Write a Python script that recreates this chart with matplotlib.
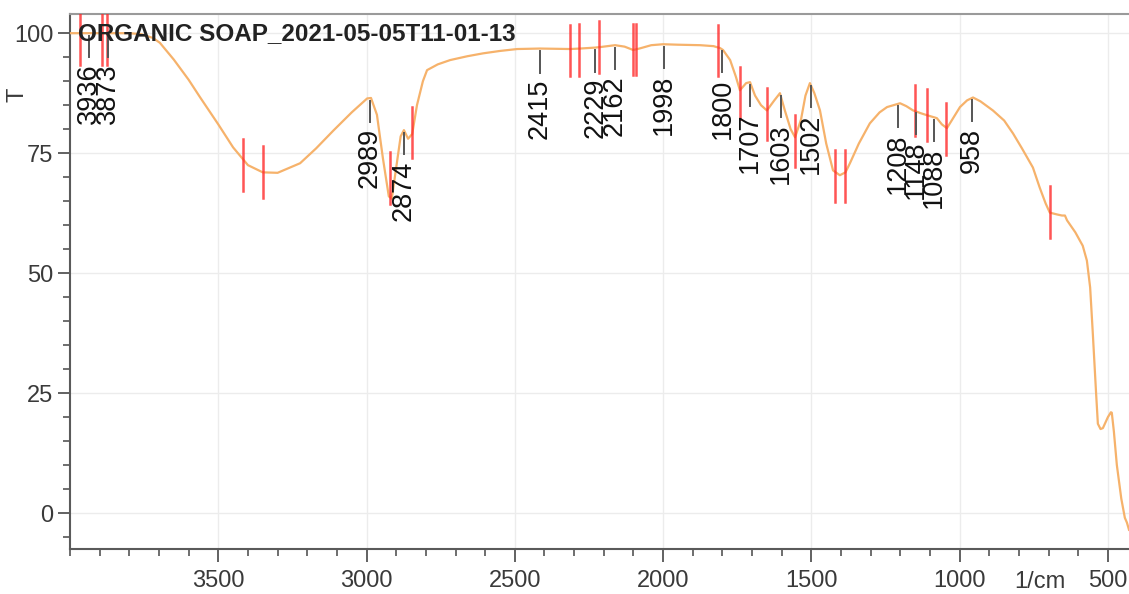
import matplotlib
matplotlib.use('Agg')
import matplotlib.pyplot as plt
from matplotlib.ticker import MultipleLocator
from matplotlib.transforms import blended_transform_factory

plt.rcParams['font.family'] = ['Liberation Sans', 'DejaVu Sans']

title = 'ORGANIC SOAP_2021-05-05T11-01-13'

# spectrum (wavenumber 1/cm, transmittance %)
wn = [4000, 3900, 3800, 3760, 3720, 3697, 3650, 3600, 3562, 3500, 3450, 3400,
      3350, 3300, 3224, 3170, 3112, 3050, 2998, 2985, 2965, 2945, 2925, 2915,
      2900, 2885, 2874, 2860, 2846, 2830, 2810, 2796, 2760, 2718, 2660, 2607,
      2550, 2492, 2415, 2314, 2280, 2229, 2213, 2162, 2130, 2101, 2080, 2040,
      2000, 1950, 1875, 1830, 1808, 1798, 1774, 1755, 1741, 1720, 1707, 1690,
      1670, 1650, 1625, 1606, 1590, 1570, 1555, 1535, 1520, 1505, 1490, 1471,
      1450, 1427, 1404, 1385, 1370, 1340, 1303, 1270, 1245, 1201, 1180, 1157,
      1130, 1110, 1077, 1060, 1043, 1020, 999, 975, 955, 930, 888, 850,
      820, 790, 753, 730, 710, 696, 670, 655, 645, 638, 610, 585,
      571, 560, 551, 540, 534, 525, 517, 500, 490, 487, 480, 470,
      455, 443, 436, 429]
trans = [100, 100, 100, 99.8, 99, 98, 94.5, 90.3, 86.7, 81, 76.2, 72.5,
         71, 70.9, 72.9, 76, 79.7, 83.5, 86.4, 86.5, 83, 74, 66, 65.5,
         72, 78.5, 79.8, 78, 79, 85, 90, 92.3, 93.5, 94.4, 95.2, 95.8,
         96.3, 96.7, 96.8, 96.7, 96.8, 97, 97.1, 97.5, 97.2, 96.5, 96.8, 97.5,
         97.7, 97.6, 97.5, 97.3, 96.9, 96.5, 94.4, 91, 88.1, 89.6, 89.8, 87,
         85, 83.9, 86, 87.5, 84, 80, 78.3, 82, 87, 89.6, 87.5, 83.9,
         77, 71.4, 70.4, 71, 72.9, 77, 81.2, 83.5, 84.6, 85.4, 84.8, 83.9,
         83.3, 82.9, 82.3, 81, 80.2, 82.5, 84.6, 86, 86.6, 85.8, 83.9, 81.8,
         79.1, 76, 72, 67.8, 64.5, 62.6, 62.2, 62, 62, 61, 58.5, 55.7,
         52.6, 47, 37.4, 25, 18.6, 17.5, 17.7, 20, 21, 20.9, 17, 10,
         3, -1, -2, -3.5]

# labelled peaks
peak_wn = [3936, 3873, 2989, 2874, 2415, 2229, 2162, 1998, 1800, 1707, 1603,
           1502, 1208, 1148, 1088, 958]
peak_t = [100, 100, 86.5, 79.8, 96.8, 97, 97.5, 97.7, 96.9, 89.8, 87.5,
          89.6, 85.4, 84, 82.5, 86.6]
peak_lbl = ['3936', '3873', '2989', '2874', '2415', '2229', '2162', '1998',
            '1800', '1707', '1603', '1502', '1208', '1148', '1088', '958']

# red valley markers
valley_wn = [3966, 3892, 3875, 3416, 3348, 2920, 2846, 2314, 2283, 2216, 2101,
             2093, 1815, 1741, 1650, 1555, 1420, 1387, 1151, 1110, 1046, 696]
valley_t = [98.7, 98.7, 98.7, 72.5, 71, 69.8, 79.3, 96.4, 96.5, 97.2, 96.6,
            96.6, 96.4, 87.6, 83.1, 77.5, 70.2, 70.2, 83.9, 82.9, 80, 62.8]

fig = plt.figure(figsize=(11.29, 5.94), dpi=100)
ax = fig.add_axes([70/1129, 45/594, 1059/1129, 535/594])

ax.plot(wn, trans, color='#f6b26b', lw=1.6, zorder=3)

for w, t in zip(valley_wn, valley_t):
    ax.plot([w, w], [t - 5.4, t + 5.4], color='#ff2a2a', lw=1.8, alpha=0.8,
            zorder=4)

for w, t, s in zip(peak_wn, peak_t, peak_lbl):
    ax.plot([w, w], [t - 0.6, t - 5], color='#555555', lw=1.4, zorder=4)
    ax.text(w, t - 6.3, s, rotation=90, ha='center', va='top', fontsize=19.5,
            color='#111111', zorder=5)

ax.text(3973, 100, title, fontsize=17.5, fontweight='bold', color='#222222',
        va='center', ha='left', zorder=6)

ax.set_xlim(4000, 429)
ax.set_ylim(-7.5, 104)
ax.xaxis.set_minor_locator(MultipleLocator(100))
ax.yaxis.set_major_locator(MultipleLocator(25))
ax.yaxis.set_minor_locator(MultipleLocator(5))
ax.set_xticks([3500, 3000, 2500, 2000, 1500, 1000, 500])
ax.set_xticklabels(['3500', '3000', '2500', '2000', '1500', '1000', '500'])
ax.tick_params(axis='both', which='major', direction='out', length=9,
               width=1.3, color='#555555', labelsize=17, labelcolor='#3a3a3a')
ax.tick_params(axis='both', which='minor', direction='out', length=5,
               width=1.2, color='#555555')
ax.tick_params(axis='x', pad=6)
ax.tick_params(axis='y', pad=3)
ax.grid(True, which='major', color='#ececec', lw=1.0, zorder=0)

tr = blended_transform_factory(ax.transData, ax.transAxes)
ax.text(730, -0.042, '1/cm', transform=tr, ha='center', va='top',
        fontsize=17, color='#3a3a3a')
fig.text(17/1129, 1 - 95/594, 'T', rotation=90, ha='center', va='center',
         fontsize=17, color='#3a3a3a')

for side in ['left', 'bottom']:
    ax.spines[side].set_color('#5a5a5a')
    ax.spines[side].set_linewidth(1.5)
ax.spines['top'].set_color('#9a9a9a')
ax.spines['top'].set_linewidth(1.5)
ax.spines['right'].set_visible(False)

fig.savefig('out.png', dpi=100)
